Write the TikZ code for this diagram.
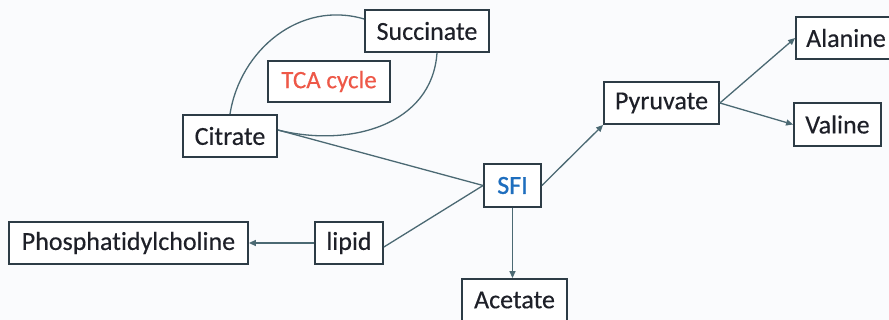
\documentclass[tikz,border=0pt]{standalone}
\usepackage{fontspec}
\setmainfont{Carlito}[Ligatures=NoCommon,FakeBold=0.35]
\newfontfamily\sfibold{Carlito}[Ligatures=NoCommon,FakeBold=1.2]
\usetikzlibrary{arrows.meta,calc}
\definecolor{bg}{RGB}{250,251,253}
\definecolor{boxline}{RGB}{45,60,70}
\definecolor{conn}{RGB}{75,105,115}
\definecolor{txt}{RGB}{30,32,40}
\definecolor{tcared}{RGB}{238,88,72}
\definecolor{sfiblue}{RGB}{30,110,190}
\begin{document}
\begin{tikzpicture}[x=1pt,y=-1pt,
  mbox/.style={draw=boxline,fill=white,line width=1.8pt,inner sep=0pt,
    text=txt,font=\fontsize{26}{30}\selectfont,anchor=center},
  link/.style={draw=conn,line width=1.3pt},
  arr/.style={link,-{Triangle[length=7pt,width=6pt]}}]
\fill[bg] (0,0) rectangle (889,320);
\useasboundingbox (0,0) rectangle (889,320);
\node[mbox,minimum width=124pt,minimum height=42pt] (succ) at (427,31) {Succinate};
\node[mbox,minimum width=122pt,minimum height=41pt,text=tcared,font=\fontsize{25}{30}\selectfont] (tca) at (329,81.5) {TCA cycle};
\node[mbox,minimum width=94pt,minimum height=42pt] (cit) at (230,136) {Citrate};
\node[mbox,minimum width=115pt,minimum height=42pt] (pyr) at (661.5,103) {Pyruvate};
\node[mbox,minimum width=100pt,minimum height=42pt] (ala) at (846,38) {Alanine};
\node[mbox,minimum width=87pt,minimum height=43pt] (val) at (837.5,124.5) {Valine};
\node[mbox,minimum width=57pt,minimum height=43pt,text=sfiblue,font=\sfibold\fontsize{26}{30}\selectfont] (sfi) at (512.5,185.5) {SFI};
\node[mbox,minimum width=239pt,minimum height=42pt] (phos) at (128.5,243) {Phosphatidylcholine};
\node[mbox,minimum width=68pt,minimum height=42pt] (lip) at (349,243) {lipid};
\node[mbox,minimum width=105pt,minimum height=42pt] (ace) at (514.5,300) {Acetate};
% TCA arcs
\draw[link] (cit.north) .. controls (240,50) and (300,0) .. ([yshift=12pt]succ.west);
\draw[link] ([xshift=10pt]succ.south) .. controls (432,125) and (350,148) .. ([yshift=6pt]cit.east);
% connectors
\draw[link] ([yshift=6pt]cit.east) -- (sfi.west);
\draw[link] ([yshift=-4pt]lip.east) -- (sfi.west);
\draw[arr] (lip.west) -- (phos.east);
\draw[arr] (sfi.east) -- (pyr.south west);
\draw[arr] (pyr.east) -- (ala.west);
\draw[arr] (pyr.east) -- (val.west);
\draw[arr] (sfi.south) -- (sfi.south |- ace.north);
\end{tikzpicture}
\end{document}
